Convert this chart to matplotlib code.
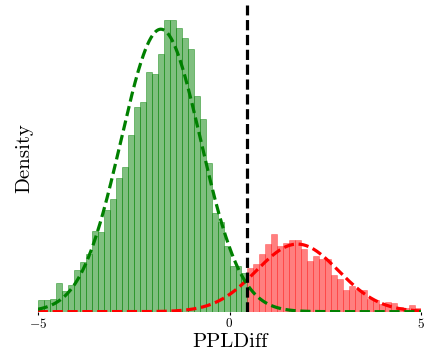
import numpy as np
import matplotlib
matplotlib.use("Agg")
import matplotlib.pyplot as plt

plt.rcParams['font.family'] = ['cmr10', 'DejaVu Serif']
plt.rcParams['mathtext.fontset'] = 'cm'
plt.rcParams['axes.formatter.use_mathtext'] = True

# ---- data ----
x_range = [-5, 5]
n_bins = 64
threshold = 0.45

green_density = [0.0133, 0.0133, 0.0144, 0.0325, 0.0230, 0.0303, 0.0468, 0.0567,
                 0.0650, 0.0915, 0.0904, 0.1145, 0.1273, 0.1512, 0.1633, 0.1996,
                 0.2317, 0.2367, 0.2714, 0.2691, 0.2914, 0.3300, 0.3300, 0.3206,
                 0.3099, 0.2971, 0.2442, 0.2181, 0.1686, 0.1115, 0.1013, 0.0741,
                 0.0522, 0.0514, 0.0434]
red_density = [0.0491, 0.0541, 0.0650, 0.0768, 0.0877, 0.0745, 0.0775, 0.0813,
               0.0813, 0.0706, 0.0575, 0.0624, 0.0598, 0.0593, 0.0416, 0.0366,
               0.0246, 0.0295, 0.0246, 0.0246, 0.0144, 0.0133, 0.0087, 0.0113,
               0.0094, 0.0057, 0.0037, 0.0071, 0.0037]

# normal fits (mean, std, weight)
green_fit = (-1.79, 1.04, 0.833)
red_fit = (1.77, 1.07, 0.205)

x_ticks = [-5, 0, 5]
x_label = "PPLDiff"
y_label = "Density"

# ---- plotting ----
fig = plt.figure(figsize=(4.24, 3.57), dpi=100)
ax = fig.add_axes([0.089, 0.127, 0.9046, 0.858])

edges = np.linspace(x_range[0], x_range[1], n_bins + 1)
ng = len(green_density)
g_edges = edges[:ng + 1]
r_edges = edges[ng:]
g_centers = (g_edges[:-1] + g_edges[1:]) / 2
r_centers = (r_edges[:-1] + r_edges[1:]) / 2

ax.hist(g_centers, bins=g_edges, weights=green_density, color='green',
        alpha=0.5, edgecolor='green', linewidth=0.6)
ax.hist(r_centers, bins=r_edges, weights=red_density, color='red',
        alpha=0.5, edgecolor='red', linewidth=0.4)

xs = np.linspace(x_range[0], x_range[1], 600)
def npdf(x, m, s, w):
    return w * np.exp(-0.5 * ((x - m) / s) ** 2) / (s * np.sqrt(2 * np.pi))

dash = (3.2, 1.45)
ax.plot(xs, npdf(xs, *red_fit), color='red', lw=2.3, ls='--', dashes=dash)
ax.plot(xs, npdf(xs, *green_fit), color='green', lw=2.3, ls='--', dashes=dash)
ax.axvline(threshold, color='black', lw=2.3, ls='--', dashes=dash)

ax.set_xlim(x_range)
ax.set_ylim(bottom=0)
ax.set_xticks(x_ticks)
ax.set_yticks([])
ax.tick_params(axis='x', length=2.5, width=0.8, pad=1.5, labelsize=9.5)
for s in ax.spines.values():
    s.set_visible(False)

ax.set_xlabel(x_label, fontsize=15, labelpad=1)
ax.set_ylabel(y_label, fontsize=15, labelpad=3)

fig.savefig("out.png", dpi=100)
